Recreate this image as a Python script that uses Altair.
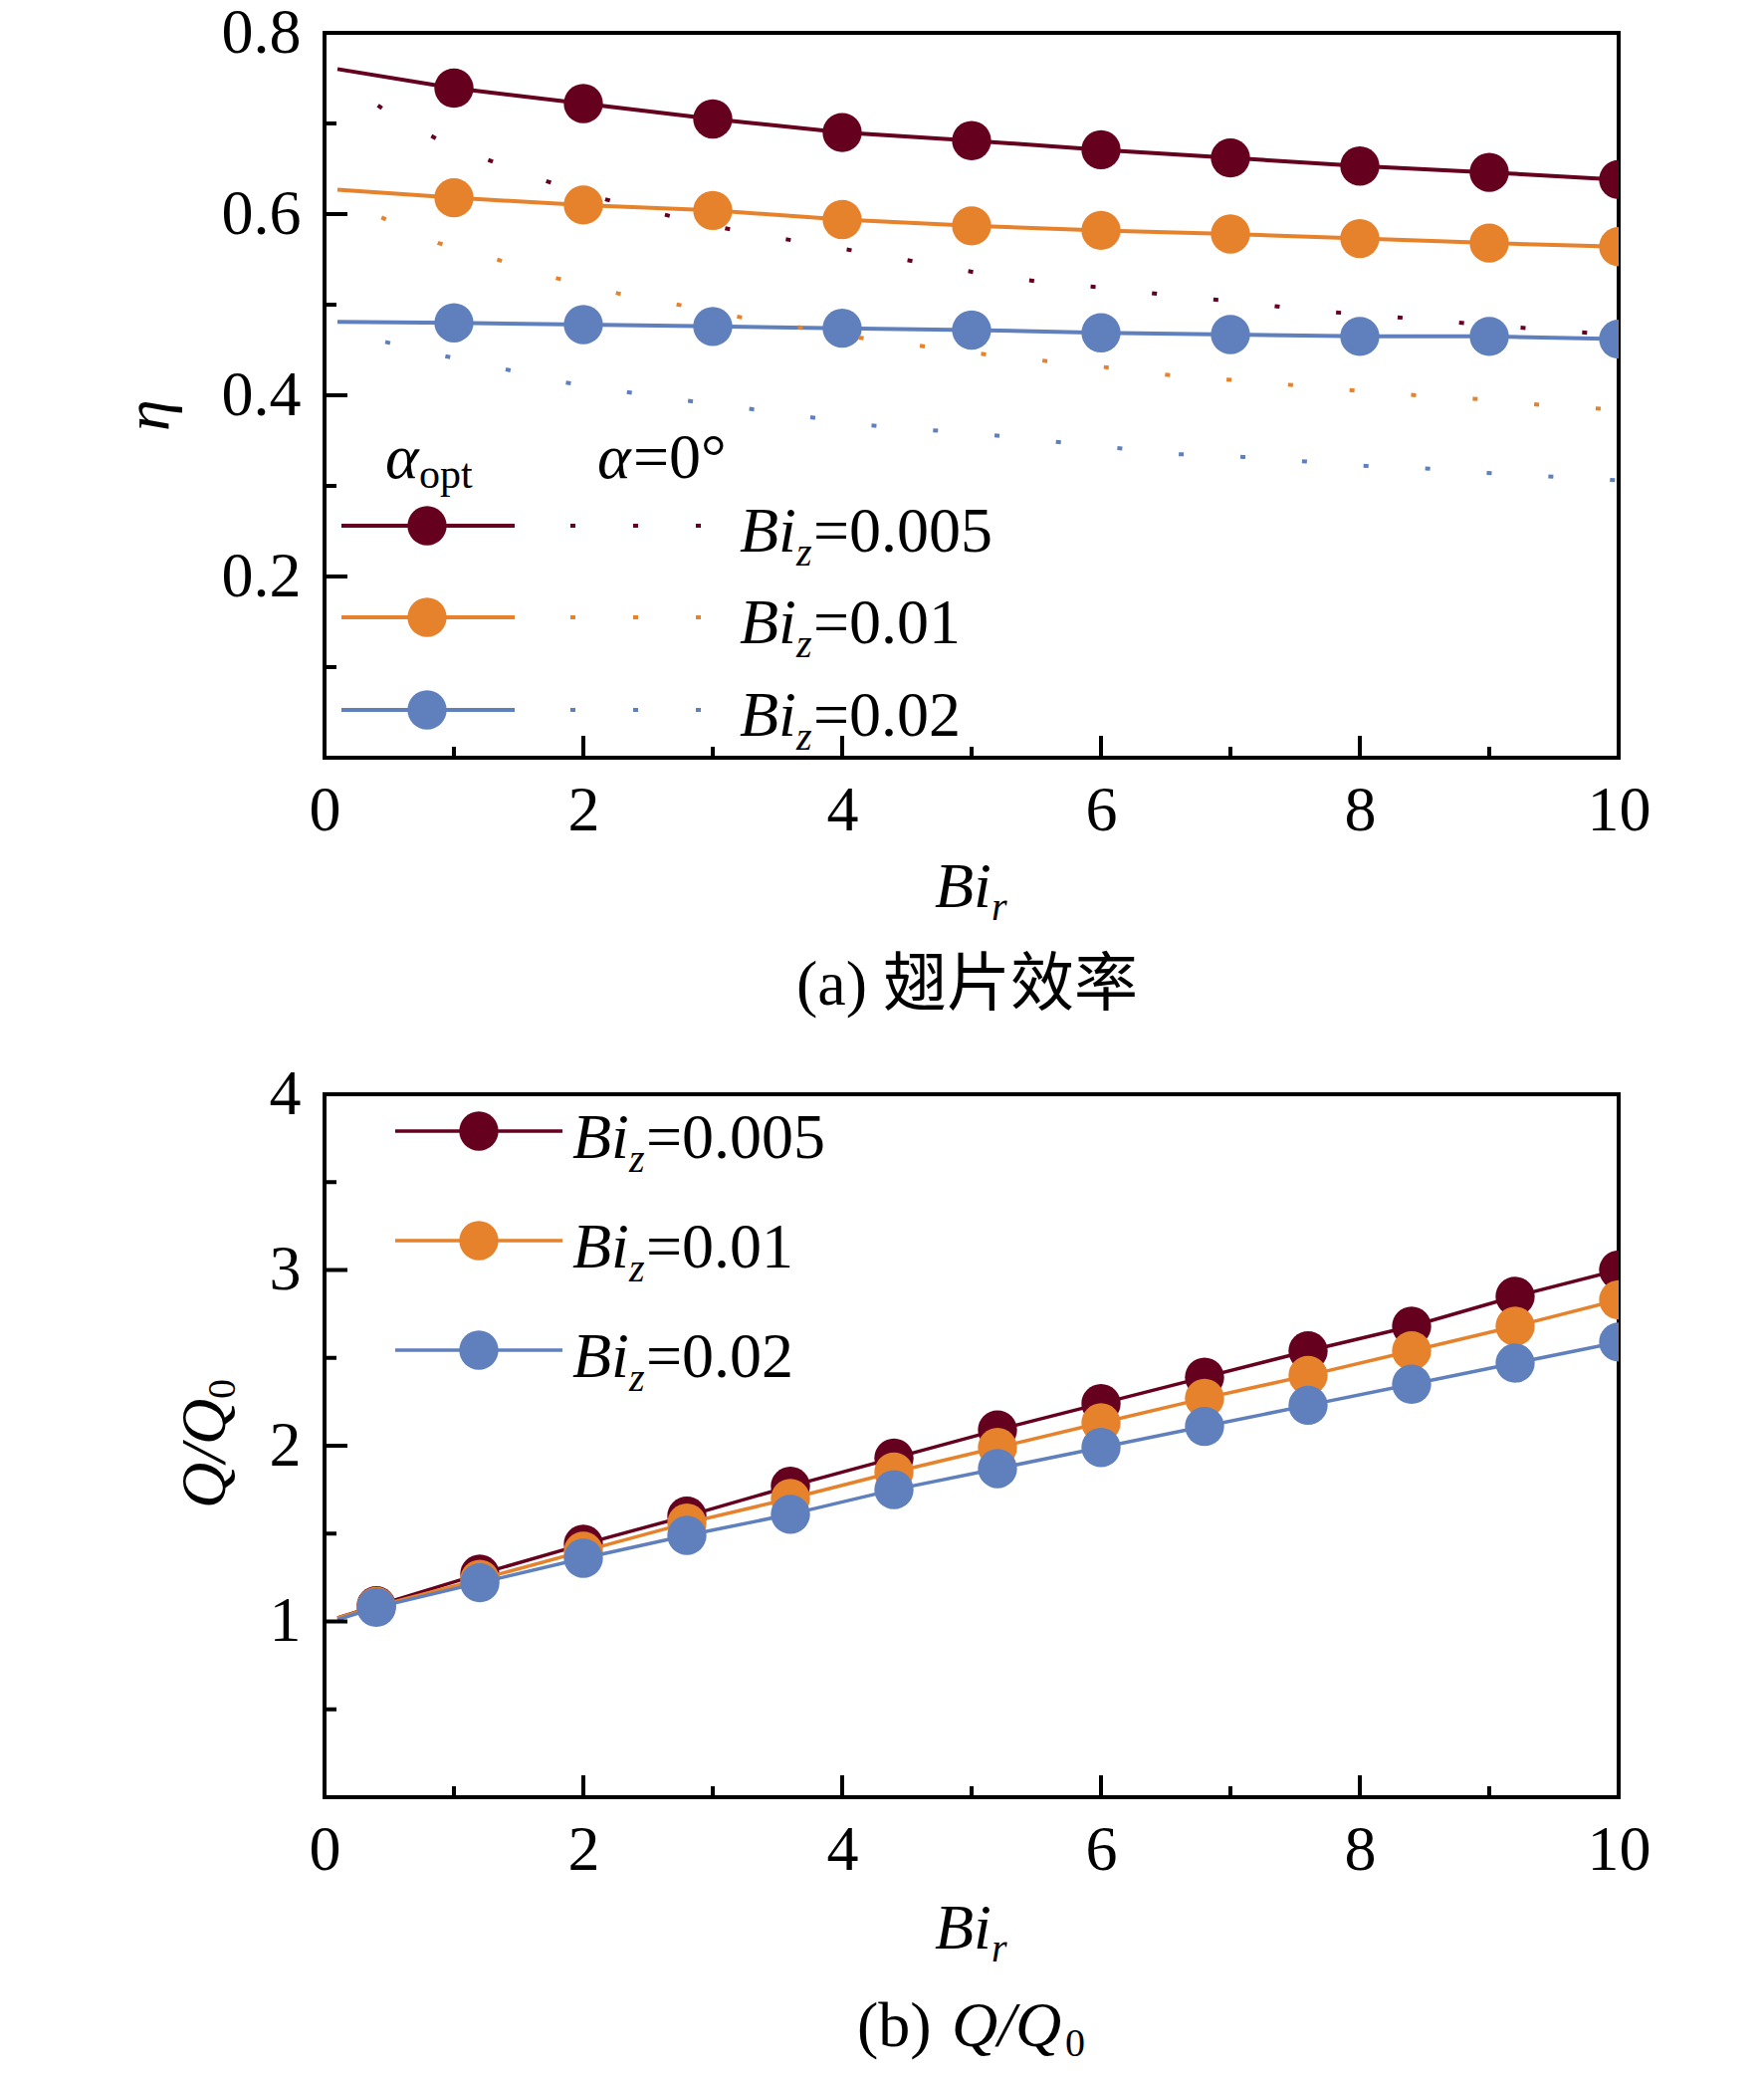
import altair as alt
import pandas as pd

FONT = "Liberation Serif"
CJK = "Liberation Serif, Noto Sans CJK SC"
FS = 64
SUB = 40

SERIES = ["=0.005", "=0.01", "=0.02"]
COLORS = ["#66001F", "#E6822B", "#5F80BD"]

# ---------------- panel (a): fin efficiency ----------------
eta_x = [0.1, 1, 2, 3, 4, 5, 6, 7, 8, 9, 10]
eta_opt_005 = [0.760, 0.739, 0.722, 0.705, 0.690, 0.681, 0.671, 0.662, 0.653, 0.646, 0.638]
eta_opt_01 = [0.627, 0.618, 0.610, 0.604, 0.594, 0.587, 0.582, 0.578, 0.573, 0.568, 0.564]
eta_opt_02 = [0.481, 0.480, 0.478, 0.476, 0.474, 0.472, 0.469, 0.467, 0.465, 0.465, 0.462]

eta0_005_x = [0.1, 0.5, 0.92, 1.37, 1.84, 2.3, 2.78, 3.24, 4.2, 5.17, 5.65, 6.1, 6.6, 7.1, 7.58, 8.05, 8.54, 9.02, 9.5, 10]
eta0_005 = [0.752, 0.711, 0.679, 0.654, 0.630, 0.611, 0.594, 0.580, 0.557, 0.532, 0.523, 0.518, 0.509, 0.503, 0.494, 0.489, 0.483, 0.477, 0.472, 0.466]
eta0_01_x = [0.1, 0.43, 0.88, 1.33, 1.8, 2.28, 2.77, 3.22, 4.2, 5.17, 6.1, 6.6, 7.1, 7.58, 8.05, 8.54, 9.02, 9.5, 10]
eta0_01 = [0.622, 0.597, 0.568, 0.550, 0.529, 0.512, 0.499, 0.486, 0.462, 0.444, 0.430, 0.421, 0.416, 0.410, 0.404, 0.399, 0.395, 0.388, 0.384]
eta0_02_x = [0.1, 0.38, 0.84, 1.33, 1.78, 2.27, 2.75, 3.24, 4.2, 5.17, 6.1, 6.6, 7.1, 7.58, 8.05, 8.54, 9.02, 9.5, 10]
eta0_02 = [0.474, 0.462, 0.446, 0.431, 0.416, 0.405, 0.395, 0.386, 0.367, 0.356, 0.342, 0.335, 0.332, 0.327, 0.322, 0.319, 0.314, 0.310, 0.306]

# ---------------- panel (b): Q/Q0 ----------------
q_x = [0.1, 0.4, 1.2, 2.0, 2.8, 3.6, 4.4, 5.2, 6.0, 6.8, 7.6, 8.4, 9.2, 10.0]
q_005 = [1.02, 1.09, 1.27, 1.44, 1.60, 1.77, 1.93, 2.09, 2.24, 2.39, 2.54, 2.68, 2.85, 3.00]
q_01 = [1.02, 1.085, 1.24, 1.40, 1.56, 1.70, 1.85, 1.99, 2.13, 2.27, 2.40, 2.54, 2.68, 2.83]
q_02 = [1.01, 1.08, 1.22, 1.36, 1.49, 1.61, 1.75, 1.87, 1.99, 2.11, 2.23, 2.35, 2.47, 2.59]

x_ticks_major = [2, 4, 6, 8]
x_ticks_minor = [1, 3, 5, 7, 9]
x_labels = [0, 2, 4, 6, 8, 10]
eta_ticks_major = [0.2, 0.4, 0.6]
eta_ticks_minor = [0.1, 0.3, 0.5, 0.7]
eta_labels = [0.2, 0.4, 0.6, 0.8]
q_ticks_major = [1, 2, 3]
q_ticks_minor = [0.5, 1.5, 2.5, 3.5]
q_labels = [1, 2, 3, 4]

W = 1300
HA = 728
HB = 706

XS = alt.Scale(domain=[0, 10], nice=False, zero=False)
XA = alt.Axis(values=x_labels, format="d", title=None, ticks=False, tickSize=0, domain=False,
              grid=False, labelFont=FONT, labelFontSize=FS, labelColor="black", labelPadding=21,
              labelFlush=False, labelOverlap=False)


def yaxis(vals, fmt):
    return alt.Axis(values=vals, format=fmt, title=None, ticks=False, tickSize=0, domain=False,
                    grid=False, labelFont=FONT, labelFontSize=FS, labelColor="black", labelPadding=24,
                    labelFlush=False, labelOverlap=False)


def T(s, x, y, size=FS, style="normal", align="left", baseline="alphabetic", angle=0, dx=0, dy=0, font=FONT):
    kw = dict(text=s, align=align, baseline=baseline, fontSize=size, fontStyle=style,
              font=font, color="black", dx=dx, dy=dy)
    if angle:
        kw["angle"] = angle
    return alt.Chart(pd.DataFrame({"a": [0]})).mark_text(**kw).encode(x=alt.value(x), y=alt.value(y))


def ticks(H, YS, YA, ymaj, ymin):
    out = []
    for vals, ln in ((x_ticks_major, 22), (x_ticks_minor, 11)):
        out.append(alt.Chart(pd.DataFrame({"v": vals})).mark_rule(color="black", strokeWidth=4).encode(
            x=alt.X("v:Q", scale=XS, axis=XA), y=alt.value(H), y2=alt.value(H - ln)))
    for vals, ln in ((ymaj, 23), (ymin, 12)):
        out.append(alt.Chart(pd.DataFrame({"v": vals})).mark_rule(color="black", strokeWidth=4).encode(
            y=alt.Y("v:Q", scale=YS, axis=YA), x=alt.value(0), x2=alt.value(ln)))
    return out


def biz(x, y, label, size=FS):
    return [T("Bi", x, y, size=size, style="italic"),
            T("z", x + 57, y + 14, size=SUB, style="italic"),
            T(label, x + 74, y, size=size)]


# ---------- panel (a) ----------
YSA = alt.Scale(domain=[0, 0.8], nice=False, zero=False)
YAA = yaxis(eta_labels, ".1f")
layers_a = []
for ys, c in zip([eta_opt_005, eta_opt_01, eta_opt_02], COLORS):
    d = pd.DataFrame({"x": eta_x, "y": ys})
    enc = dict(x=alt.X("x:Q", scale=XS, axis=XA), y=alt.Y("y:Q", scale=YSA, axis=YAA))
    layers_a.append(alt.Chart(d).mark_line(color=c, strokeWidth=4, clip=True).encode(**enc))
    layers_a.append(alt.Chart(d[d["x"] >= 1]).mark_circle(color=c, size=1550, opacity=1, clip=True).encode(**enc))
for xs, ys, c in zip([eta0_005_x, eta0_01_x, eta0_02_x], [eta0_005, eta0_01, eta0_02], COLORS):
    d = pd.DataFrame({"x": xs, "y": ys})
    layers_a.append(alt.Chart(d).mark_line(color=c, strokeWidth=4, strokeDash=[5, 57], strokeDashOffset=12,
                                           strokeCap="butt", clip=True).encode(
        x=alt.X("x:Q", scale=XS, axis=XA), y=alt.Y("y:Q", scale=YSA, axis=YAA)))
layers_a += ticks(HA, YSA, YAA, eta_ticks_major, eta_ticks_minor)

# legend (a)
layers_a += [T("α", 61, 447, style="italic"), T("opt", 95, 457, size=42),
             T("α", 274, 447, style="italic"), T("=0°", 310, 447)]
for ry, c, lab in zip([495, 587, 680], COLORS, SERIES):
    one = pd.DataFrame({"a": [0]})
    layers_a.append(alt.Chart(one).mark_rule(color=c, strokeWidth=4).encode(
        x=alt.value(17), x2=alt.value(191), y=alt.value(ry)))
    layers_a.append(alt.Chart(one).mark_circle(color=c, size=1550, opacity=1).encode(
        x=alt.value(103), y=alt.value(ry)))
    layers_a.append(alt.Chart(one).mark_rule(color=c, strokeWidth=4, strokeDash=[5, 58]).encode(
        x=alt.value(247), x2=alt.value(382), y=alt.value(ry)))
    layers_a += biz(417, ry + 26, lab)

# titles (a)
layers_a += [T("η", -157, 384, size=FS, style="italic", align="center", angle=270),
             T("Bi", 613, HA + 150, style="italic"), T("r", 670, HA + 163, size=SUB, style="italic"),
             T("(a) 翅片效率", 474, HA + 248, font=CJK)]

panel_a = alt.layer(*layers_a).properties(width=W, height=HA)

# ---------- panel (b) ----------
YSB = alt.Scale(domain=[0, 4], nice=False, zero=False)
YAB = yaxis(q_labels, "d")
layers_b = []
for ys, c in zip([q_005, q_01, q_02], COLORS):
    d = pd.DataFrame({"x": q_x, "y": ys})
    enc = dict(x=alt.X("x:Q", scale=XS, axis=XA), y=alt.Y("y:Q", scale=YSB, axis=YAB))
    layers_b.append(alt.Chart(d).mark_line(color=c, strokeWidth=3.5, clip=True).encode(**enc))
    layers_b.append(alt.Chart(d[d["x"] >= 0.4]).mark_circle(color=c, size=1550, opacity=1, clip=True).encode(**enc))
layers_b += ticks(HB, YSB, YAB, q_ticks_major, q_ticks_minor)

for ry, c, lab in zip([37, 147, 257], COLORS, SERIES):
    one = pd.DataFrame({"a": [0]})
    layers_b.append(alt.Chart(one).mark_rule(color=c, strokeWidth=3.5).encode(
        x=alt.value(71), x2=alt.value(239), y=alt.value(ry)))
    layers_b.append(alt.Chart(one).mark_circle(color=c, size=1550, opacity=1).encode(
        x=alt.value(155), y=alt.value(ry)))
    layers_b += biz(249, ry + 27, lab)

layers_b += [T("Q/Q", -100, 416, style="italic", angle=270),
             T("0", -100, 416, size=SUB, angle=270, dx=110, dy=10),
             T("Bi", 613, HB + 152, style="italic"), T("r", 670, HB + 165, size=SUB, style="italic"),
             T("(b)", 535, HB + 250), T("Q/Q", 630, HB + 250, style="italic"),
             T("0", 744, HB + 260, size=SUB)]

panel_b = alt.layer(*layers_b).properties(width=W, height=HB)

chart = alt.vconcat(panel_a, panel_b, spacing=41).properties(
    padding={"left": 108, "top": -9, "right": 20, "bottom": 0},
    background="white",
).configure_view(stroke="black", strokeWidth=4)

chart.save("out.html", embed_options={"renderer": "svg", "actions": False})
